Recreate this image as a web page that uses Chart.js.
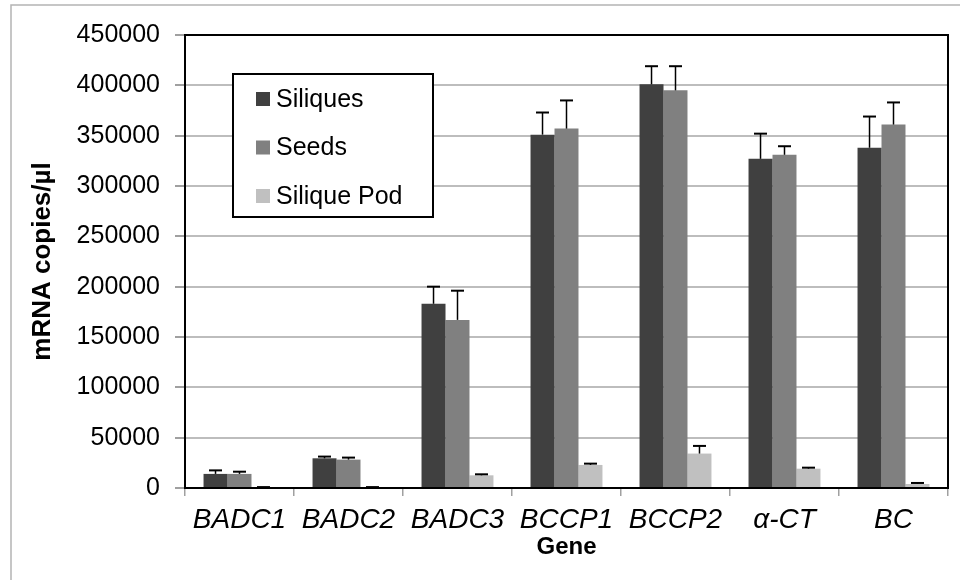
<!DOCTYPE html>
<html>
<head>
<meta charset="utf-8">
<title>mRNA copies per gene</title>
<script src="https://cdn.jsdelivr.net/npm/chart.js@4.4.1/dist/chart.umd.min.js"></script>
<style>
  html, body { margin: 0; padding: 0; background: #fff; }
  #wrap { width: 960px; height: 580px; }
</style>
</head>
<body>
<div id="wrap"><canvas id="myChart" width="960" height="580"></canvas></div>
<script>
// data
var genes = ["BADC1", "BADC2", "BADC3", "BCCP1", "BCCP2", "\u03B1-CT", "BC"];
var siliques = [14000, 29500, 183000, 351000, 401000, 327000, 338000];
var siliquesErr = [3500, 1700, 17000, 22000, 18000, 25000, 31000];
var seeds = [14000, 28200, 167000, 357000, 395000, 331000, 361000];
var seedsErr = [2200, 2000, 29000, 28000, 24000, 8500, 22000];
var pods = [600, 600, 12600, 22900, 34200, 19200, 4000];
var podsErr = [300, 300, 1000, 1300, 7600, 1000, 1000];
var yTicks = [0, 50000, 100000, 150000, 200000, 250000, 300000, 350000, 400000, 450000];

var fontName = "'Liberation Sans', Arial, sans-serif";

// white page + thin gray frame around the whole figure
var frame = {
  id: "frame",
  beforeDraw: function (chart) {
    var ctx = chart.ctx;
    ctx.save();
    ctx.fillStyle = "#fff";
    ctx.fillRect(0, 0, chart.width, chart.height);
    ctx.strokeStyle = "#b4b4b4";
    ctx.lineWidth = 1.5;
    ctx.strokeRect(11, 5, chart.width + 20, chart.height + 20);
    ctx.restore();
  }
};

// plus-only error bars, drawn on the bar tops
var errorBars = {
  id: "errorBars",
  afterDatasetsDraw: function (chart) {
    var ctx = chart.ctx;
    var yScale = chart.scales.y;
    ctx.save();
    ctx.strokeStyle = "#000";
    chart.data.datasets.forEach(function (ds, d) {
      var meta = chart.getDatasetMeta(d);
      meta.data.forEach(function (bar, i) {
        var top = yScale.getPixelForValue(ds.data[i] + ds.errors[i]);
        ctx.lineWidth = 1.5;
        ctx.beginPath();
        ctx.moveTo(bar.x, bar.y);
        ctx.lineTo(bar.x, top);
        ctx.stroke();
        ctx.lineWidth = 2;
        ctx.beginPath();
        ctx.moveTo(bar.x - 6.5, top);
        ctx.lineTo(bar.x + 6.5, top);
        ctx.stroke();
      });
    });
    ctx.restore();
  }
};

// black box around plot + boxed legend inside it
var boxAndLegend = {
  id: "boxAndLegend",
  afterDraw: function (chart) {
    var ctx = chart.ctx;
    var a = chart.chartArea;
    ctx.save();
    ctx.strokeStyle = "#000";
    ctx.lineWidth = 2;
    ctx.strokeRect(a.left, a.top, a.right - a.left, a.bottom - a.top);

    var lx = a.left + 48, ly = a.top + 39;
    ctx.fillStyle = "#fff";
    ctx.fillRect(lx, ly, 200, 143);
    ctx.strokeRect(lx, ly, 200, 143);
    ctx.font = "25px " + fontName;
    ctx.textBaseline = "middle";
    chart.data.datasets.forEach(function (ds, d) {
      var cy = ly + 25 + d * 48.5;
      ctx.fillStyle = ds.backgroundColor;
      ctx.fillRect(lx + 23, cy - 7, 14, 14);
      ctx.fillStyle = "#000";
      ctx.fillText(ds.label, lx + 43, cy + 1);
    });
    ctx.restore();
  }
};

var myChart = new Chart(document.getElementById("myChart").getContext("2d"), {
  type: "bar",
  data: {
    labels: genes,
    datasets: [
      { label: "Siliques", data: siliques, errors: siliquesErr, backgroundColor: "#404040" },
      { label: "Seeds", data: seeds, errors: seedsErr, backgroundColor: "#808080" },
      { label: "Silique Pod", data: pods, errors: podsErr, backgroundColor: "#c0c0c0" }
    ]
  },
  options: {
    responsive: false,
    animation: false,
    layout: { padding: { top: 35, right: 12, left: 0, bottom: 0 } },
    datasets: { bar: { categoryPercentage: 0.66, barPercentage: 1.0 } },
    plugins: { legend: { display: false }, tooltip: { enabled: false } },
    scales: {
      x: {
        afterFit: function (scale) { scale.height = 92; },
        grid: { drawOnChartArea: false, drawTicks: true, offset: true, tickLength: 8, tickColor: "#a0a0a0", lineWidth: 1.5 },
        border: { color: "#000", width: 2 },
        ticks: { color: "#000", padding: 7, maxRotation: 0, font: { family: fontName, size: 28, style: "italic" } },
        title: { display: true, text: "Gene", color: "#000", padding: { top: 0, bottom: 18 }, font: { family: fontName, size: 24, weight: "bold" } }
      },
      y: {
        min: 0,
        max: 450000,
        afterFit: function (scale) { scale.width = 185; },
        afterBuildTicks: function (scale) { scale.ticks = yTicks.map(function (v) { return { value: v }; }); },
        grid: { color: "#bdbdbd", lineWidth: 2, tickLength: 10, tickColor: "#a0a0a0" },
        border: { color: "#000", width: 2 },
        ticks: { color: "#000", padding: 15, font: { family: fontName, size: 25 }, callback: function (v) { return String(v); } },
        title: { display: true, text: "mRNA copies/\u00B5l", color: "#000", padding: { top: 27, bottom: 0 }, font: { family: fontName, size: 26, weight: "bold" } }
      }
    }
  },
  plugins: [frame, errorBars, boxAndLegend]
});
</script>
</body>
</html>
